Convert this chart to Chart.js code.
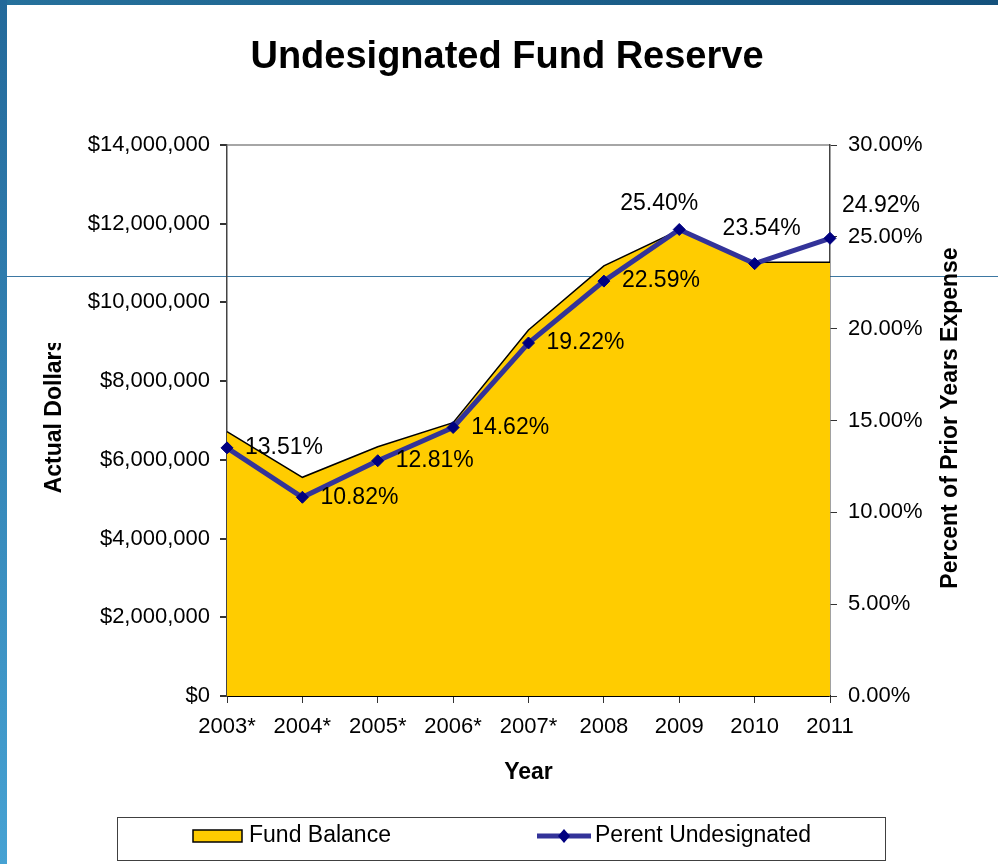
<!DOCTYPE html>
<html>
<head>
<meta charset="utf-8">
<title>Undesignated Fund Reserve</title>
<script src="https://cdn.jsdelivr.net/npm/chart.js@4.4.1/dist/chart.umd.min.js"></script>
<style>
  html, body { margin: 0; padding: 0; background: #fff; }
  #slide { position: relative; width: 998px; height: 864px; overflow: hidden; background: #fff; }
  #topbar { position: absolute; left: 0; top: 0; width: 998px; height: 5px; background: linear-gradient(to right, #26719c, #14517c); }
  #leftbar { position: absolute; left: 0; top: 0; width: 7px; height: 864px; background: linear-gradient(to bottom, #23699a, #46a2d3); }
  #rule { position: absolute; left: 7px; top: 276px; width: 991px; height: 1px; background: #3d78a3; }
  #chart { position: absolute; left: 0; top: 0; }
</style>
</head>
<body>
<div id="slide">
  <div id="topbar"></div>
  <div id="leftbar"></div>
  <div id="rule"></div>
  <canvas id="chart" width="998" height="864"></canvas>
</div>
<script>
// data
const years = ['2003*', '2004*', '2005*', '2006*', '2007*', '2008', '2009', '2010', '2011'];
const fundBalance = [6715000, 5557000, 6334000, 6944000, 9300000, 10930000, 11840000, 11020000, 11020000];
const pctUndesignated = [13.51, 10.82, 12.81, 14.62, 19.22, 22.59, 25.40, 23.54, 24.92];
const dollarTicks = [0, 2000000, 4000000, 6000000, 8000000, 10000000, 12000000, 14000000];
const pctTicks = [0, 5, 10, 15, 20, 25, 30];

const FONT = "'Liberation Sans', Arial, sans-serif";
const GOLD = '#FFCC00';
const NAVY_LINE = '#333399';
const NAVY_MARK = '#000080';

// where each percent label sits relative to its point (dx, dy, align)
const labelPlace = [
  [18, 0, 'left'], [18, 0, 'left'], [18, 0, 'left'], [18, 0, 'left'], [18, 0, 'left'], [18, 0, 'left'],
  [-20, -26, 'center'], [7, -35, 'center'], [51, -33, 'center']
];

const pctLabels = {
  id: 'pctLabels',
  afterDatasetsDraw(chart) {
    const ctx = chart.ctx;
    const meta = chart.getDatasetMeta(0);
    ctx.save();
    ctx.font = '23px ' + FONT;
    ctx.fillStyle = '#000';
    ctx.textBaseline = 'middle';
    meta.data.forEach((pt, i) => {
      const p = labelPlace[i];
      ctx.textAlign = p[2];
      ctx.fillText(pctUndesignated[i].toFixed(2) + '%', pt.x + p[0], pt.y + p[1]);
    });
    ctx.restore();
  }
};

// chart title plus the two axis titles that read bottom-to-top, cut off at the top like the slide
const slideText = {
  id: 'slideText',
  afterDraw(chart) {
    const ctx = chart.ctx;
    ctx.save();
    ctx.font = 'bold 38px ' + FONT;
    ctx.fillStyle = '#000';
    ctx.textAlign = 'center';
    ctx.textBaseline = 'middle';
    ctx.fillText('Undesignated Fund Reserve', 507, 58);
    ctx.restore();

    const side = (text, x, y, clipTop) => {
      ctx.save();
      ctx.beginPath();
      ctx.rect(x - 20, clipTop, 40, 864 - clipTop);
      ctx.clip();
      ctx.translate(x, y);
      ctx.rotate(-Math.PI / 2);
      ctx.font = 'bold 23px ' + FONT;
      ctx.fillStyle = '#000';
      ctx.textAlign = 'center';
      ctx.textBaseline = 'middle';
      ctx.fillText(text, 0, 0);
      ctx.restore();
    };
    side('Actual Dollars', 55, 416, 343);
    side('Percent of Prior Years Expense', 951, 418, 247);
  }
};

const boxLegend = {
  id: 'boxLegend',
  afterDraw(chart) {
    const ctx = chart.ctx;
    const ds = chart.data.datasets;
    const cy = 836;
    ctx.save();
    ctx.strokeStyle = '#404040';
    ctx.lineWidth = 1;
    ctx.strokeRect(117.5, 817.5, 768, 43);

    // area swatch
    const area = ds[1];
    ctx.fillStyle = area.backgroundColor;
    ctx.fillRect(193, cy - 6, 49, 12);
    ctx.strokeStyle = '#000';
    ctx.lineWidth = 1.5;
    ctx.strokeRect(193, cy - 6, 49, 12);

    // line swatch
    const line = ds[0];
    ctx.strokeStyle = line.borderColor;
    ctx.lineWidth = 5;
    ctx.beginPath();
    ctx.moveTo(537, cy);
    ctx.lineTo(591, cy);
    ctx.stroke();
    ctx.fillStyle = line.pointBackgroundColor;
    ctx.beginPath();
    ctx.moveTo(564, cy - 7);
    ctx.lineTo(570, cy);
    ctx.lineTo(564, cy + 7);
    ctx.lineTo(558, cy);
    ctx.closePath();
    ctx.fill();

    ctx.font = '23px ' + FONT;
    ctx.fillStyle = '#000';
    ctx.textAlign = 'left';
    ctx.textBaseline = 'middle';
    ctx.fillText(area.label, 249, cy);
    ctx.fillText(line.label, 595, cy);
    ctx.restore();
  }
};

new Chart(document.getElementById('chart'), {
  type: 'line',
  data: {
    labels: years,
    datasets: [
      {
        label: 'Perent Undesignated',
        data: pctUndesignated,
        yAxisID: 'y1',
        borderColor: NAVY_LINE,
        borderWidth: 5,
        pointStyle: 'rectRot',
        pointRadius: 6,
        pointBackgroundColor: NAVY_MARK,
        pointBorderColor: NAVY_MARK,
        pointBorderWidth: 1,
        tension: 0,
        fill: false,
        order: 0
      },
      {
        label: 'Fund Balance',
        data: fundBalance,
        yAxisID: 'y',
        borderColor: '#000',
        borderWidth: 1.5,
        backgroundColor: GOLD,
        pointRadius: 0,
        tension: 0,
        fill: 'origin',
        order: 1
      }
    ]
  },
  options: {
    responsive: false,
    animation: false,
    layout: { padding: { top: 145, left: 0, right: 0, bottom: 0 } },
    plugins: {
      legend: { display: false },
      tooltip: { enabled: false },
      title: { display: false }
    },
    scales: {
      x: {
        offset: false,
        afterFit(scale) { scale.height = 168; },
        grid: { display: true, drawOnChartArea: false, drawTicks: true, tickLength: 7, tickColor: '#333' },
        border: { display: true, color: '#000', width: 2 },
        ticks: { color: '#000', padding: 11, maxRotation: 0, font: { family: FONT, size: 22 } },
        title: {
          display: true,
          text: 'Year',
          color: '#000',
          font: { family: FONT, size: 23, weight: 'bold' },
          padding: { top: 0, bottom: 78 }
        }
      },
      y: {
        position: 'left',
        min: 0,
        max: 14000000,
        afterFit(scale) { scale.width = 227; },
        afterBuildTicks(scale) { scale.ticks = dollarTicks.map(v => ({ value: v })); },
        grid: {
          drawOnChartArea: true,
          tickLength: 7,
          tickColor: '#333',
          lineWidth: 2,
          color: c => (c.tick && c.tick.value === 14000000) ? '#a6a6a6' : 'rgba(0,0,0,0)'
        },
        border: { display: true, color: '#444', width: 1.5 },
        ticks: {
          color: '#000',
          padding: 10,
          font: { family: FONT, size: 22 },
          callback: v => '$' + Number(v).toLocaleString('en-US')
        }
      },
      y1: {
        position: 'right',
        min: 0,
        max: 30,
        afterFit(scale) { scale.width = 168; },
        afterBuildTicks(scale) { scale.ticks = pctTicks.map(v => ({ value: v })); },
        grid: { drawOnChartArea: false, tickLength: 7, tickColor: '#333' },
        border: { display: true, color: '#444', width: 1.5 },
        ticks: {
          color: '#000',
          padding: 11,
          font: { family: FONT, size: 22 },
          callback: v => Number(v).toFixed(2) + '%'
        }
      }
    }
  },
  plugins: [pctLabels, slideText, boxLegend]
});
</script>
</body>
</html>
